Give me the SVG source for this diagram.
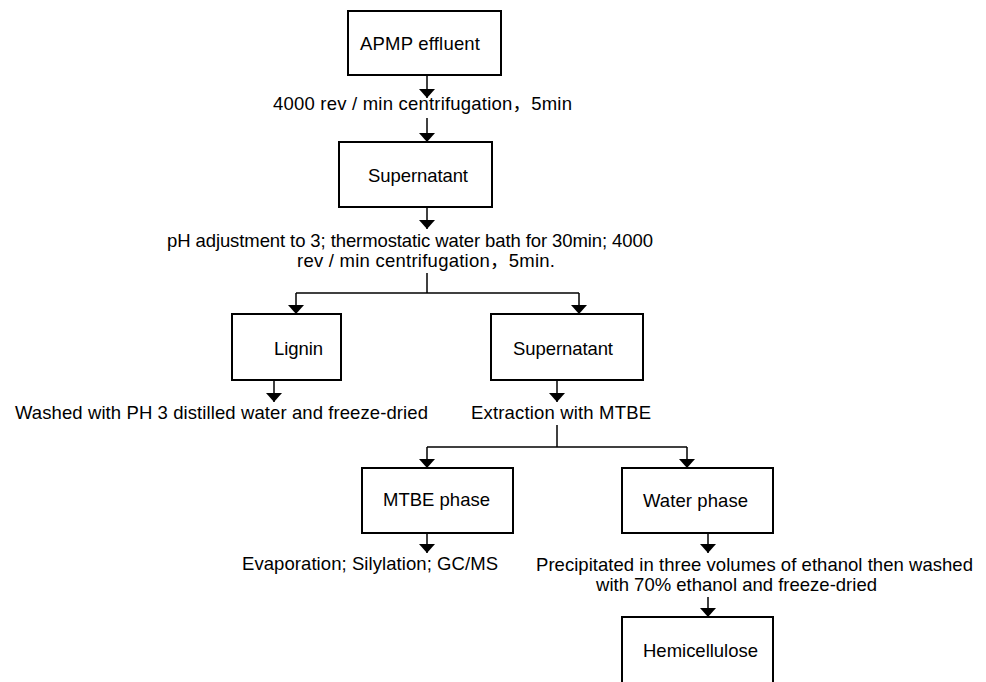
<svg xmlns="http://www.w3.org/2000/svg" width="986" height="682" viewBox="0 0 986 682">
<style>
.box{fill:#fff;stroke:#000;stroke-width:2}
.ln{fill:none;stroke:#000;stroke-width:1.5}
.ar{fill:none;stroke:#000;stroke-width:1.5;marker-end:url(#ah)}
text{font-family:"Liberation Sans",Arial,"Noto Sans CJK SC",sans-serif;font-size:18.5px;fill:#000}
</style>
<defs>
<marker id="ah" markerUnits="userSpaceOnUse" viewBox="0 0 9 16" markerWidth="9" markerHeight="16" refX="9" refY="8" orient="auto">
<path d="M0,0 L9,8 L0,16 z" fill="#000"/>
</marker>
</defs>
<rect width="986" height="682" fill="#fff"/>
<g id="connectors">
<line class="ar" x1="427" y1="75" x2="427" y2="98"/>
<line class="ar" x1="427" y1="118" x2="427" y2="142"/>
<line class="ar" x1="427" y1="207" x2="427" y2="229"/>
<polyline class="ln" points="427,273 427,293"/>
<polyline class="ln" points="296,293 579,293"/>
<line class="ar" x1="296" y1="293" x2="296" y2="314"/>
<line class="ar" x1="579" y1="293" x2="579" y2="314"/>
<line class="ar" x1="274" y1="380" x2="274" y2="402"/>
<line class="ar" x1="557" y1="380" x2="557" y2="402"/>
<polyline class="ln" points="557,425 557,447"/>
<polyline class="ln" points="427,447 687,447"/>
<line class="ar" x1="427" y1="447" x2="427" y2="468"/>
<line class="ar" x1="687" y1="447" x2="687" y2="468"/>
<line class="ar" x1="427" y1="533" x2="427" y2="553"/>
<line class="ar" x1="708" y1="533" x2="708" y2="553"/>
<line class="ar" x1="708" y1="597" x2="708" y2="617"/>
</g>
<g id="labels">
<text x="273" y="110" textLength="299" lengthAdjust="spacing">4000 rev / min centrifugation，5min</text>
<text x="167" y="247" textLength="486" lengthAdjust="spacing">pH adjustment to 3; thermostatic water bath for 30min; 4000</text>
<text x="297" y="267" textLength="258" lengthAdjust="spacing">rev / min centrifugation，5min.</text>
<text x="15" y="419" textLength="413" lengthAdjust="spacing">Washed with PH 3 distilled water and freeze-dried</text>
<text x="471" y="419" textLength="180" lengthAdjust="spacing">Extraction with MTBE</text>
<text x="242" y="570" textLength="256" lengthAdjust="spacing">Evaporation; Silylation; GC/MS</text>
<text x="536" y="571" textLength="437" lengthAdjust="spacing">Precipitated in three volumes of ethanol then washed</text>
<text x="596" y="591" textLength="281" lengthAdjust="spacing">with 70% ethanol and freeze-dried</text>
</g>
<g id="apmp">
<rect class="box" x="348" y="11" width="153" height="64"/>
<text x="360" y="50" textLength="120" lengthAdjust="spacing">APMP effluent</text>
</g>
<g id="supernatant1">
<rect class="box" x="339" y="142" width="153" height="65"/>
<text x="368" y="182" textLength="100" lengthAdjust="spacing">Supernatant</text>
</g>
<g id="lignin">
<rect class="box" x="232" y="314" width="109" height="66"/>
<text x="274" y="355" textLength="49" lengthAdjust="spacing">Lignin</text>
</g>
<g id="supernatant2">
<rect class="box" x="491" y="314" width="152" height="66"/>
<text x="513" y="355" textLength="100" lengthAdjust="spacing">Supernatant</text>
</g>
<g id="mtbe">
<rect class="box" x="362" y="468" width="151" height="65"/>
<text x="383" y="506" textLength="107" lengthAdjust="spacing">MTBE phase</text>
</g>
<g id="water">
<rect class="box" x="622" y="468" width="151" height="65"/>
<text x="643" y="507" textLength="105" lengthAdjust="spacing">Water phase</text>
</g>
<g id="hemicellulose">
<rect class="box" x="622" y="617" width="151" height="80"/>
<text x="643" y="657" textLength="115" lengthAdjust="spacing">Hemicellulose</text>
</g>
</svg>
